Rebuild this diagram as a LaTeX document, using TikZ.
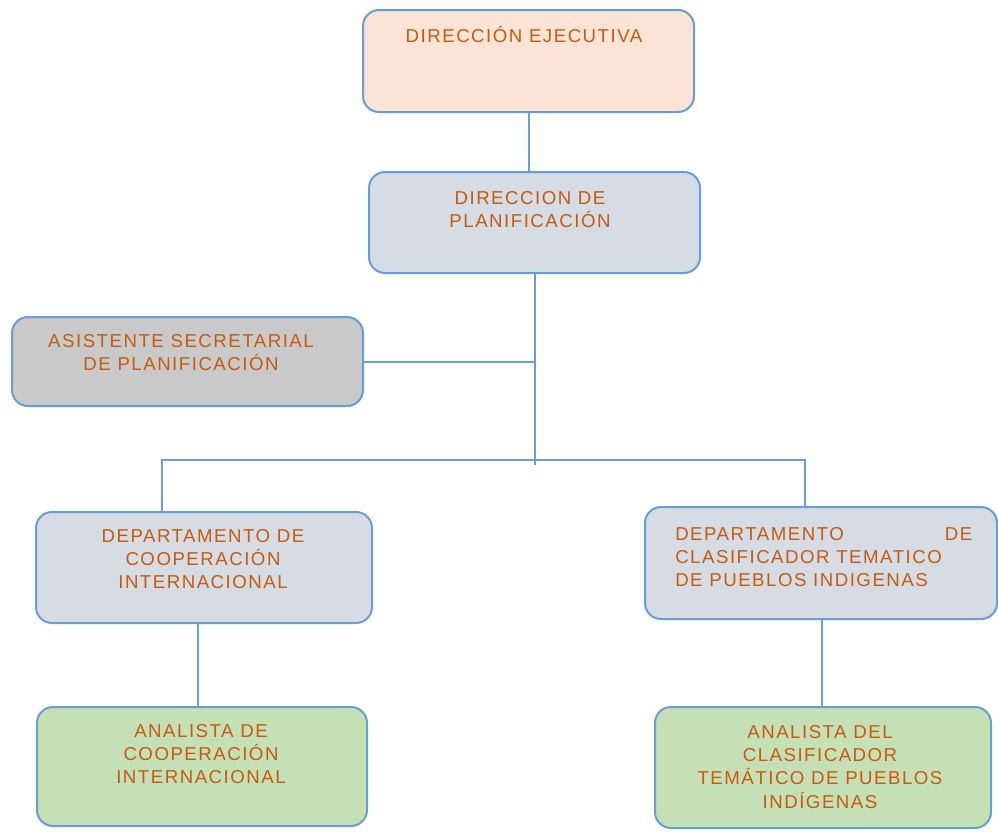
\documentclass[tikz,border=0pt]{standalone}
\usepackage{fontspec}
\setmainfont{Liberation Sans}[LetterSpace=8]
\definecolor{lineblue}{RGB}{104,157,214}
\definecolor{txtorange}{RGB}{197,90,17}
\definecolor{peach}{RGB}{251,228,213}
\definecolor{bluegray}{RGB}{214,220,228}
\definecolor{graybox}{RGB}{201,201,201}
\definecolor{greenbox}{RGB}{197,224,180}
\begin{document}
\begin{tikzpicture}[x=0.75pt,y=-0.75pt,
  box/.style={draw=lineblue, line width=1.5pt, rounded corners=12pt, rectangle, inner sep=0pt},
  txt/.style={text=txtorange, font=\fontsize{14}{17.5}\selectfont, inner sep=0pt, anchor=north, align=center},
  conn/.style={draw=lineblue, line width=1.5pt}]
\fill[white] (0,0) rectangle (998,832);
\useasboundingbox (0,0) rectangle (998,832);
% boxes
\node[box, fill=peach, minimum width=331*0.75pt, minimum height=102*0.75pt] (b1) at (528.5,61) {};
\node[box, fill=bluegray, minimum width=331*0.75pt, minimum height=101*0.75pt] (b2) at (534.5,222.5) {};
\node[box, fill=graybox, minimum width=351*0.75pt, minimum height=89*0.75pt] (b3) at (187.5,361.5) {};
\node[box, fill=bluegray, minimum width=336*0.75pt, minimum height=111*0.75pt] (b4) at (204,567.5) {};
\node[box, fill=bluegray, minimum width=352*0.75pt, minimum height=112*0.75pt] (b5) at (821,563) {};
\node[box, fill=greenbox, minimum width=330*0.75pt, minimum height=119*0.75pt] (b6) at (202,766.5) {};
\node[box, fill=greenbox, minimum width=336*0.75pt, minimum height=121*0.75pt] (b7) at (823,767.5) {};
% texts
\node[txt] (t1) at (524,25.7) {\strut DIRECCIÓN EJECUTIVA};
\node[txt] (t2) at (530,187.7) {\strut DIRECCION DE\\\strut PLANIFICACIÓN};
\node[txt] (t3) at (181,330.7) {\strut ASISTENTE SECRETARIAL\\\strut DE PLANIFICACIÓN};
\node[txt] (t4) at (203,525.7) {\strut DEPARTAMENTO DE\\\strut COOPERACIÓN\\\strut INTERNACIONAL};
\node[txt, anchor=north west, align=left] (t5) at (675,523.7) {\makebox[222.75pt][l]{\strut DEPARTAMENTO\hfill DE}\\\strut CLASIFICADOR TEMATICO\\\strut DE PUEBLOS INDIGENAS};
\node[txt] (t6) at (201,720.7) {\strut ANALISTA DE\\\strut COOPERACIÓN\\\strut INTERNACIONAL};
\node[txt] (t7) at (820,721.7) {\strut ANALISTA DEL\\\strut CLASIFICADOR\\\strut TEMÁTICO DE PUEBLOS\\\strut INDÍGENAS};
% connectors
\draw[conn] (b1.south) -- (b1.south |- b2.north);
\coordinate (vend) at (534.5,465);
\draw[conn] (b2.south) -- (vend);
\draw[conn] (b3.east) -- (b3.east -| b2.south);
\coordinate (busL) at (162,460);
\coordinate (busR) at (805,460);
\draw[conn] (busL |- b4.north) -- (busL) -- (busR) -- (busR |- b5.north);
\coordinate (dl) at (198,0);
\coordinate (dr) at (822,0);
\draw[conn] (dl |- b4.south) -- (dl |- b6.north);
\draw[conn] (dr |- b5.south) -- (dr |- b7.north);
\end{tikzpicture}
\end{document}
